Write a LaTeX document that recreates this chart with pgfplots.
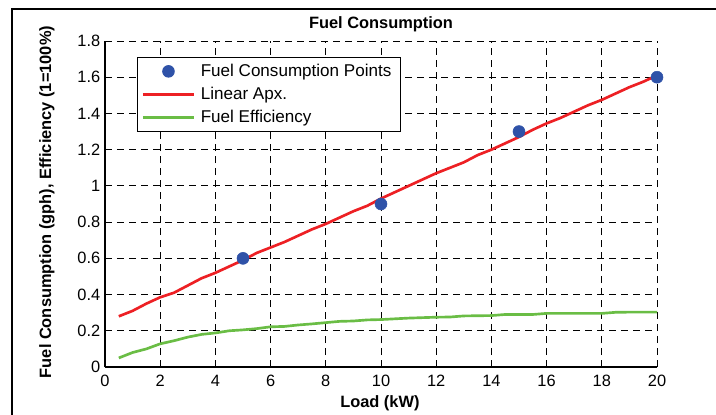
\documentclass[border=0pt]{standalone}
\usepackage{fontspec}
\setmainfont{Liberation Sans}
\usepackage{pgfplots}
\pgfplotsset{compat=1.18}
\definecolor{ptblue}{RGB}{47,82,168}
\definecolor{lnred}{RGB}{237,32,36}
\definecolor{lngreen}{RGB}{106,189,69}
\begin{document}
\begin{tikzpicture}[x=0.75pt,y=0.75pt]
\useasboundingbox (-105,-47) rectangle (611,367);
\draw[line width=1.3pt] (-93,-60) -- (-93,358) -- (640,358);
\begin{axis}[
  at={(0,0)}, anchor=south west,
  scale only axis, width=414pt, height=244.5pt,
  xmin=0, xmax=20, ymin=0, ymax=1.8,
  xtick={0,2,...,20}, ytick={0,0.2,...,1.8},
  axis lines*=left,
  axis line style={line width=0.8pt},
  tick align=inside, tick style={black, line width=0.6pt},
  major tick length=4pt,
  grid=major,
  major grid style={black, dashed, dash pattern=on 5pt off 4pt, line width=0.7pt},
  /pgf/number format/assume math mode=true,
  tick label style={font=\fontsize{12.3}{14}\selectfont},
  xticklabel style={yshift=-2.5pt},
  title={\textbf{Fuel Consumption}},
  title style={font=\fontsize{12.3}{14}\selectfont, yshift=-3pt},
  xlabel={\textbf{Load (kW)}},
  ylabel={\textbf{Fuel Consumption (gph), Efficiency (1=100\%)}},
  label style={font=\fontsize{12.3}{14}\selectfont},
  xlabel style={at={(axis description cs:0.498,-0.11)}, anchor=center},
  ylabel style={at={(axis description cs:-0.105,0.506)}, anchor=center},
  legend style={at={(0.058,0.951)}, anchor=north west, draw=black, line width=0.8pt,
    font=\fontsize{12.8}{14}\selectfont, row sep=2.5pt, inner xsep=3pt, inner ysep=3pt,
    fill=white, nodes={inner xsep=4pt}},
  legend cell align=left,
  legend image code/.code={\draw[#1] (0cm,0cm) -- (1.35cm,0cm);},
]
\addplot[only marks, mark=*, mark size=4.5pt, color=ptblue,
  legend image code/.code={\draw[ptblue, fill=ptblue] (0.675cm,0cm) circle (4.3pt);}]
  coordinates {(5,0.6) (10,0.9) (15,1.3) (20,1.6)};
\addlegendentry{Fuel Consumption Points}
\addplot[color=lnred, line width=2pt] coordinates {
(0.5,0.28) (1,0.31) (1.5,0.35) (2,0.385) (2.5,0.41) (3,0.45) (3.5,0.49) (4,0.52)
(4.5,0.555) (5,0.59) (5.5,0.63) (6,0.66) (6.5,0.69) (7,0.725) (7.5,0.76) (8,0.79)
(8.5,0.825) (9,0.86) (9.5,0.89) (10,0.93) (10.5,0.965) (11,1.0) (11.5,1.035) (12,1.07)
(12.5,1.1) (13,1.13) (13.5,1.17) (14,1.2) (14.5,1.235) (15,1.27) (15.5,1.31) (16,1.345)
(16.5,1.375) (17,1.41) (17.5,1.445) (18,1.475) (18.5,1.51) (19,1.545) (19.5,1.575) (20,1.61)};
\addlegendentry{Linear Apx.}
\addplot[color=lngreen, line width=2pt] coordinates {
(0.5,0.05) (1,0.08) (1.5,0.10) (2,0.128) (2.5,0.145) (3,0.165) (3.5,0.18) (4,0.188)
(4.5,0.2) (5,0.205) (5.5,0.212) (6,0.222) (6.5,0.224) (7,0.232) (7.5,0.238) (8,0.245)
(8.5,0.252) (9,0.254) (9.5,0.26) (10,0.262) (11,0.27) (12,0.275) (12.5,0.276) (13,0.282)
(14,0.284) (14.5,0.29) (15,0.29) (15.5,0.29) (16,0.296) (17,0.296) (18,0.296) (18.5,0.302)
(19,0.303) (20,0.303)};
\addlegendentry{Fuel Efficiency}
\end{axis}
\end{tikzpicture}
\end{document}
